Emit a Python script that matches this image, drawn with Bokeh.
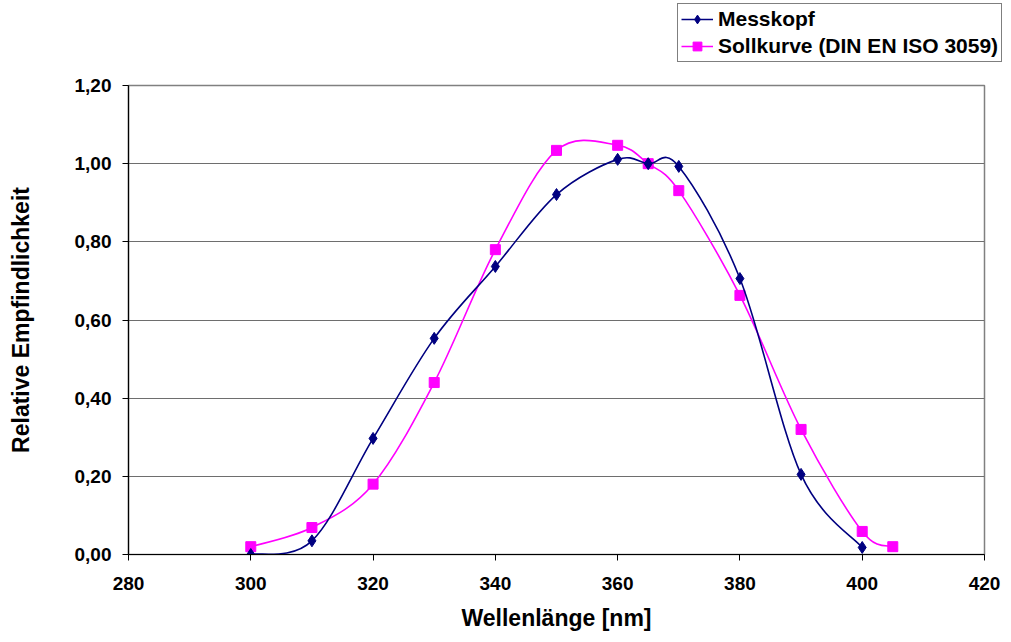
import numpy as np
from bokeh.plotting import figure
from bokeh.layouts import column
from bokeh.models import Legend, LegendItem, FixedTicker, CustomJSTickFormatter
from bokeh.embed import file_html
from bokeh.resources import INLINE

# ---- data ----
wl_mess = [300, 310, 320, 330, 340, 350, 360, 365, 370, 380, 390, 400]
mess = [0.000, 0.035, 0.297, 0.553, 0.737, 0.921, 1.011, 1.000, 0.993, 0.706, 0.205, 0.018]

wl_soll = [300, 310, 320, 330, 340, 350, 360, 365, 370, 380, 390, 400, 405]
soll = [0.020, 0.069, 0.180, 0.440, 0.780, 1.034, 1.047, 1.000, 0.931, 0.663, 0.320, 0.059, 0.020]

x_ticks = [280, 300, 320, 340, 360, 380, 400, 420]
y_ticks = [0.0, 0.2, 0.4, 0.6, 0.8, 1.0, 1.2]

FONT = "Liberation Sans"
NAVY = "#000080"
MAGENTA = "#FF00FF"

W = 1003
TOP_H = 70
MAIN_H = 568


def bezier_segments(xs, ys):
    """Catmull-Rom style smoothing (like Excel's smoothed line) as cubic Bezier controls."""
    x = np.asarray(xs, float)
    y = np.asarray(ys, float)
    n = len(x)
    xp = np.concatenate([[x[0]], x, [x[-1]]])
    yp = np.concatenate([[y[0]], y, [y[-1]]])
    return dict(
        x0=xp[1:n], y0=yp[1:n],
        x1=xp[2:n + 1], y1=yp[2:n + 1],
        cx0=xp[1:n] + (xp[2:n + 1] - xp[0:n - 1]) / 6.0,
        cy0=yp[1:n] + (yp[2:n + 1] - yp[0:n - 1]) / 6.0,
        cx1=xp[2:n + 1] - (xp[3:n + 2] - xp[1:n]) / 6.0,
        cy1=yp[2:n + 1] - (yp[3:n + 2] - yp[1:n]) / 6.0,
    )


bm = bezier_segments(wl_mess, mess)
bs = bezier_segments(wl_soll, soll)


def add_series(fig):
    rs_line = fig.bezier(line_color=MAGENTA, line_width=1.6, **bs)
    rs_pts = fig.scatter(wl_soll, soll, marker="square", size=10,
                         fill_color=MAGENTA, line_color=MAGENTA)
    rm_line = fig.bezier(line_color=NAVY, line_width=1.6, **bm)
    rm_pts = fig.scatter(wl_mess, mess, marker="diamond", size=12,
                         fill_color=NAVY, line_color=NAVY)
    return rm_line, rm_pts, rs_line, rs_pts


# ---- main chart ----
p = figure(width=W, height=MAIN_H, x_range=(280, 420), y_range=(0, 1.2),
           output_backend="svg", toolbar_location=None,
           min_border_left=128, min_border_right=19, min_border_top=15, min_border_bottom=84)
p.background_fill_color = "white"
p.border_fill_color = "white"
p.outline_line_color = "#808080"
p.outline_line_width = 1.5

p.xgrid.grid_line_color = None
p.ygrid.grid_line_color = "#6e6e6e"
p.ygrid.grid_line_width = 1.2
p.ygrid.ticker = FixedTicker(ticks=y_ticks)

p.xaxis.ticker = FixedTicker(ticks=x_ticks)
p.yaxis.ticker = FixedTicker(ticks=y_ticks)
p.yaxis.formatter = CustomJSTickFormatter(code="return tick.toFixed(2).replace('.', ',');")
for ax in (p.xaxis, p.yaxis):
    ax.axis_line_color = "black"
    ax.axis_line_width = 1.2
    ax.major_tick_line_color = "black"
    ax.major_tick_out = 6
    ax.major_tick_in = 0
    ax.minor_tick_line_color = None
    ax.major_label_text_font = FONT
    ax.major_label_text_font_style = "bold"
    ax.major_label_text_font_size = "19px"
    ax.major_label_text_color = "black"
    ax.axis_label_text_font = FONT
    ax.axis_label_text_font_style = "bold"
    ax.axis_label_text_font_size = "23px"
    ax.axis_label_text_color = "black"

p.xaxis.axis_label = "Wellenlänge [nm]"
p.yaxis.axis_label = "Relative Empfindlichkeit"
p.xaxis.major_label_standoff = 16
p.yaxis.major_label_standoff = 11
p.xaxis.axis_label_standoff = 12
p.yaxis.axis_label_standoff = 38

add_series(p)

# ---- legend strip above the chart (same series, data outside its visible range) ----
top = figure(width=W, height=TOP_H, x_range=(280, 420), y_range=(50, 51),
             output_backend="svg", toolbar_location=None,
             min_border_left=0, min_border_right=0, min_border_top=0, min_border_bottom=0)
top.frame_align = False
top.axis.visible = False
top.grid.visible = False
top.outline_line_color = None
top.background_fill_color = "white"
top.border_fill_color = "white"
rm_line, rm_pts, rs_line, rs_pts = add_series(top)

legend = Legend(items=[
    LegendItem(label="Messkopf", renderers=[rm_line, rm_pts]),
    LegendItem(label="Sollkurve (DIN EN ISO 3059)", renderers=[rs_line, rs_pts]),
], location=(677, 8))
legend.label_text_font = FONT
legend.label_text_font_style = "bold"
legend.label_text_font_size = "21px"
legend.label_text_color = "black"
legend.glyph_width = 32
legend.glyph_height = 22
legend.label_height = 22
legend.label_standoff = 5
legend.spacing = 3
legend.padding = 3
legend.margin = 0
legend.border_line_color = "black"
legend.border_line_width = 1
legend.background_fill_color = "white"
legend.background_fill_alpha = 1.0
top.add_layout(legend, "center")

layout = column(top, p, spacing=0)
open("out.html", "w").write(file_html(layout, INLINE))
